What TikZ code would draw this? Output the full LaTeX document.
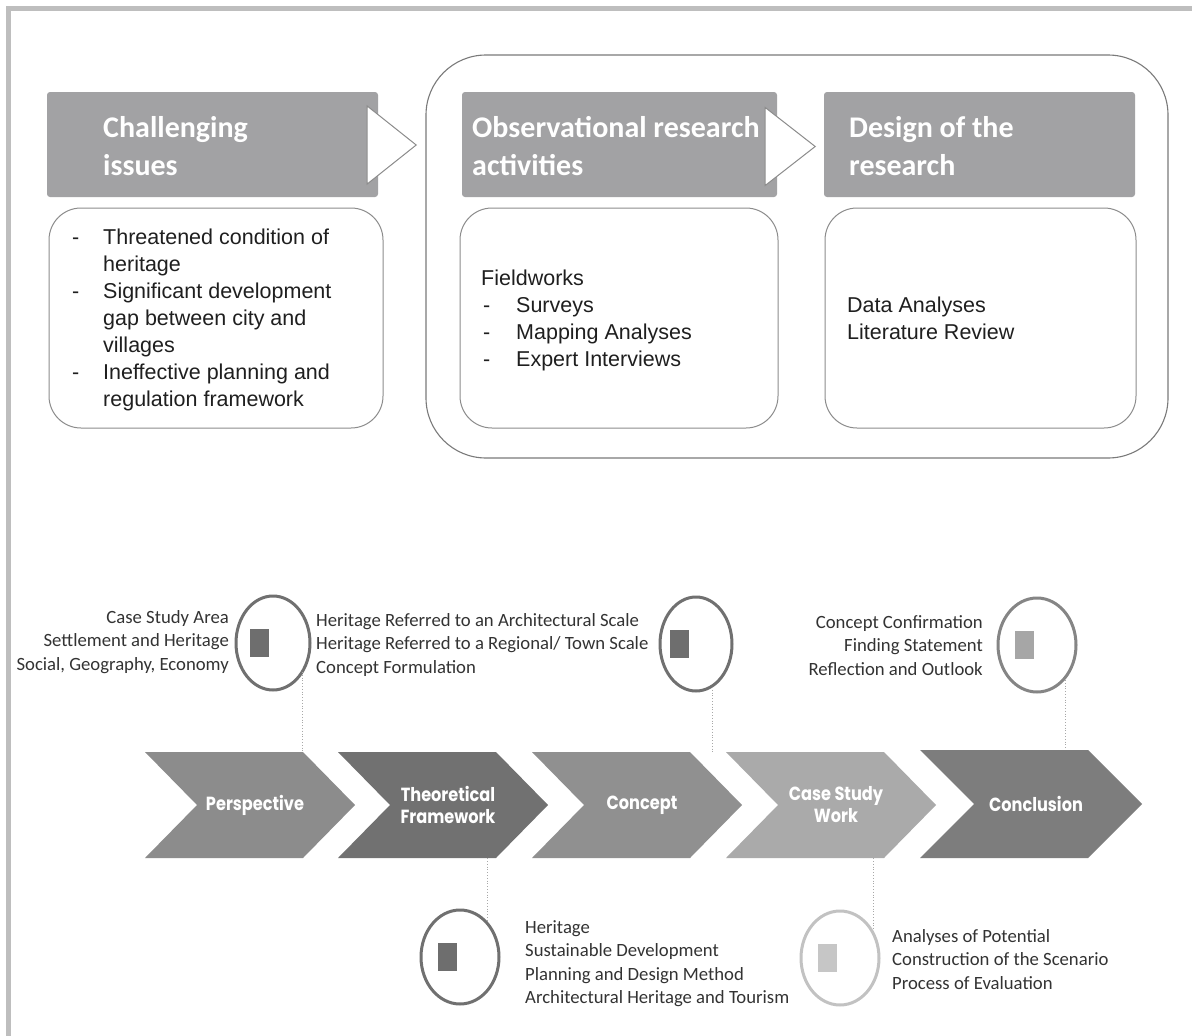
\documentclass[tikz,border=0pt]{standalone}
\usepackage{fontspec}
\setmainfont{Liberation Sans}
\newfontfamily\calfont{Carlito}
\newfontfamily\chevfont{Poppins}[FakeStretch=0.85]
\usetikzlibrary{shapes.geometric,calc}
\definecolor{frame}{HTML}{BEBEBE}
\definecolor{headfill}{HTML}{A2A2A4}
\definecolor{boxline}{HTML}{8C8C8C}
\definecolor{bigline}{HTML}{7A7A7A}
\definecolor{chA}{HTML}{8C8C8C}
\definecolor{chB}{HTML}{717171}
\definecolor{chC}{HTML}{909090}
\definecolor{chD}{HTML}{AAAAAA}
\definecolor{chE}{HTML}{7D7D7D}
\definecolor{txtdark}{HTML}{333333}
\definecolor{ringdark}{HTML}{707070}
\definecolor{ringmid}{HTML}{858585}
\definecolor{ringlight}{HTML}{C2C2C2}
\definecolor{sqdark}{HTML}{6E6E6E}
\definecolor{sqmid}{HTML}{A6A6A6}
\definecolor{sqlight}{HTML}{C6C6C6}
\definecolor{dotc}{HTML}{A8A8A8}
\begin{document}
\begin{tikzpicture}[x=1pt,y=-1pt,
  head/.style={fill=headfill, rounded corners=3pt, inner sep=0pt},
  headtext/.style={font=\calfont\bfseries\fontsize{30}{37.5}\selectfont, text=white, inner sep=0pt, anchor=base west},
  cbox/.style={draw=boxline, line width=1pt, rounded corners=32pt, inner sep=0pt},
  bodytext/.style={font=\fontsize{21.5}{27}\selectfont, text=black!88, inner sep=0pt, anchor=base west},
  tri/.style={fill=white, draw=boxline, line width=1pt, line join=miter},
  chevtext/.style={font=\chevfont\bfseries\fontsize{19}{22}\selectfont, text=white, align=center, inner sep=0pt, minimum height=106pt},
  ring/.style={draw=#1, line width=3pt, ellipse, inner sep=0pt, minimum width=78pt, minimum height=94pt},
  sqbox/.style={fill=#1, inner sep=0pt, minimum width=19pt, minimum height=28pt},
  lbl/.style={font=\calfont\fontsize{18.7}{23.5}\selectfont, text=txtdark, inner sep=0pt},
  dotline/.style={draw=dotc, line width=0.8pt, dotted}
]
\useasboundingbox (0,0) rectangle (1192,1036);
\fill[white] (0,0) rectangle (1192,1036);
% frame
\draw[frame, line width=5pt] (8.5,1045) -- (8.5,8.5) -- (1200,8.5);

% big rounded container
\node[draw=bigline, line width=1.1pt, rounded corners=60pt, minimum width=742pt, minimum height=403pt, inner sep=0pt] (big) at (797,256.5) {};

% headers
\node[head, minimum width=331pt, minimum height=105pt] (h1) at (212.5,144.5) {};
\node[head, minimum width=315pt, minimum height=105pt] (h2) at (619.5,144.5) {};
\node[head, minimum width=311pt, minimum height=105pt] (h3) at (979.5,144.5) {};
\node[headtext] (h1t) at (103,137.5) {\begin{tabular}[t]{@{}l@{}}Challenging\\issues\end{tabular}};
\node[headtext] (h2t) at (472,137.5) {\begin{tabular}[t]{@{}l@{}}Observational research\\activities\end{tabular}};
\node[headtext] (h3t) at (849,137.5) {\begin{tabular}[t]{@{}l@{}}Design of the\\research\end{tabular}};

% arrow triangles
\draw[tri] ($(h1.east)+(-11,-38.5)$) -- ($(h1.east)+(38,0.5)$) -- ($(h1.east)+(-11,39.5)$) -- cycle;
\draw[tri] ($(h2.east)+(-12,-37)$) -- ($(h2.east)+(38,2)$) -- ($(h2.east)+(-12,41)$) -- cycle;

% content boxes
\node[cbox, minimum width=334pt, minimum height=220pt] (b1) at (216,318) {};
\node[cbox, minimum width=318pt, minimum height=220pt] (b2) at (619,318) {};
\node[cbox, minimum width=311pt, minimum height=220pt] (b3) at (980.5,318) {};
\node[bodytext] (b1t) at (72,244) {\begin{tabular}[t]{@{}p{31pt}@{}l@{}}
-&Threatened condition of\\ &heritage\\
-&Significant development\\ &gap between city and\\ &villages\\
-&Ineffective planning and\\ &regulation framework\end{tabular}};
\node[bodytext] (b2t) at (481,285) {\begin{tabular}[t]{@{}p{35pt}@{}l@{}}
\multicolumn{2}{@{}l@{}}{Fieldworks}\\
\hspace{2pt}-&Surveys\\
\hspace{2pt}-&Mapping Analyses\\
\hspace{2pt}-&Expert Interviews\end{tabular}};
\node[bodytext] (b3t) at (847,312) {\begin{tabular}[t]{@{}l@{}}Data Analyses\\Literature Review\end{tabular}};

% chevrons
\foreach \x/\col/\nm/\txt in {145/chA/p1/Perspective, 338/chB/p2/{Theoretical\\Framework}, 532/chC/p3/Concept, 726/chD/p4/{Case Study\\Work}}{
  \fill[\col] (\x,752) -- ++(158,0) -- ++(52,53) -- ++(-52,53) -- ++(-158,0) -- ++(52,-53) -- cycle;
  \node[chevtext] (\nm) at (\x+110,805) {\txt};
}
\fill[chE] (920,750) -- ++(168,0) -- ++(54,54) -- ++(-54,54) -- ++(-168,0) -- ++(54,-54) -- cycle;
\node[chevtext, minimum height=108pt] (p5) at (1036,804) {Conclusion};

% circles
\node[ring=ringdark, minimum width=74pt] (c1) at (273,643) {};
\node[sqbox=sqdark] (s1) at ($(c1.center)+(-14,0)$) {};
\node[ring=ringdark, minimum width=72pt] (c2) at (696,644) {};
\node[sqbox=sqdark] (s2) at ($(c2.center)+(-17,0)$) {};
\node[ring=ringmid] (c3) at (1037,645) {};
\node[sqbox=sqmid] (s3) at ($(c3.center)+(-13,0)$) {};
\node[ring=ringdark] (c4) at (460,957) {};
\node[sqbox=sqdark] (s4) at ($(c4.center)+(-13,0)$) {};
\node[ring=ringlight] (c5) at (840,958) {};
\node[sqbox=sqlight] (s5) at ($(c5.center)+(-13,0)$) {};

% dotted connectors
\coordinate (d1) at (302,672);
\coordinate (d2) at (712,687);
\coordinate (d3) at (1065,680);
\coordinate (d4) at (487,922);
\coordinate (d5) at (873,930);
\draw[dotline] (d1) -- (d1 |- p1.north);
\draw[dotline] (d2) -- (d2 |- p3.north);
\draw[dotline] (d3) -- (d3 |- p5.north);
\draw[dotline] (p2.south -| d4) -- (d4);
\draw[dotline] (p4.south -| d5) -- (d5);

% labels
\node[lbl, anchor=base east] (l1) at (229,623) {\begin{tabular}[t]{@{}r@{}}Case Study Area\\Settlement and Heritage\\Social, Geography, Economy\end{tabular}};
\node[lbl, anchor=base west] (l2) at (316,626) {\begin{tabular}[t]{@{}l@{}}Heritage Referred to an Architectural Scale\\Heritage Referred to a Regional/ Town Scale\\Concept Formulation\end{tabular}};
\node[lbl, anchor=base east] (l3) at (983,628) {\begin{tabular}[t]{@{}r@{}}Concept Confirmation\\Finding Statement\\Reflection and Outlook\end{tabular}};
\node[lbl, anchor=base west] (l4) at (525,933) {\begin{tabular}[t]{@{}l@{}}Heritage\\Sustainable Development\\Planning and Design Method\\Architectural Heritage and Tourism\end{tabular}};
\node[lbl, anchor=base west] (l5) at (892,942) {\begin{tabular}[t]{@{}l@{}}Analyses of Potential\\Construction of the Scenario\\Process of Evaluation\end{tabular}};
\end{tikzpicture}
\end{document}
